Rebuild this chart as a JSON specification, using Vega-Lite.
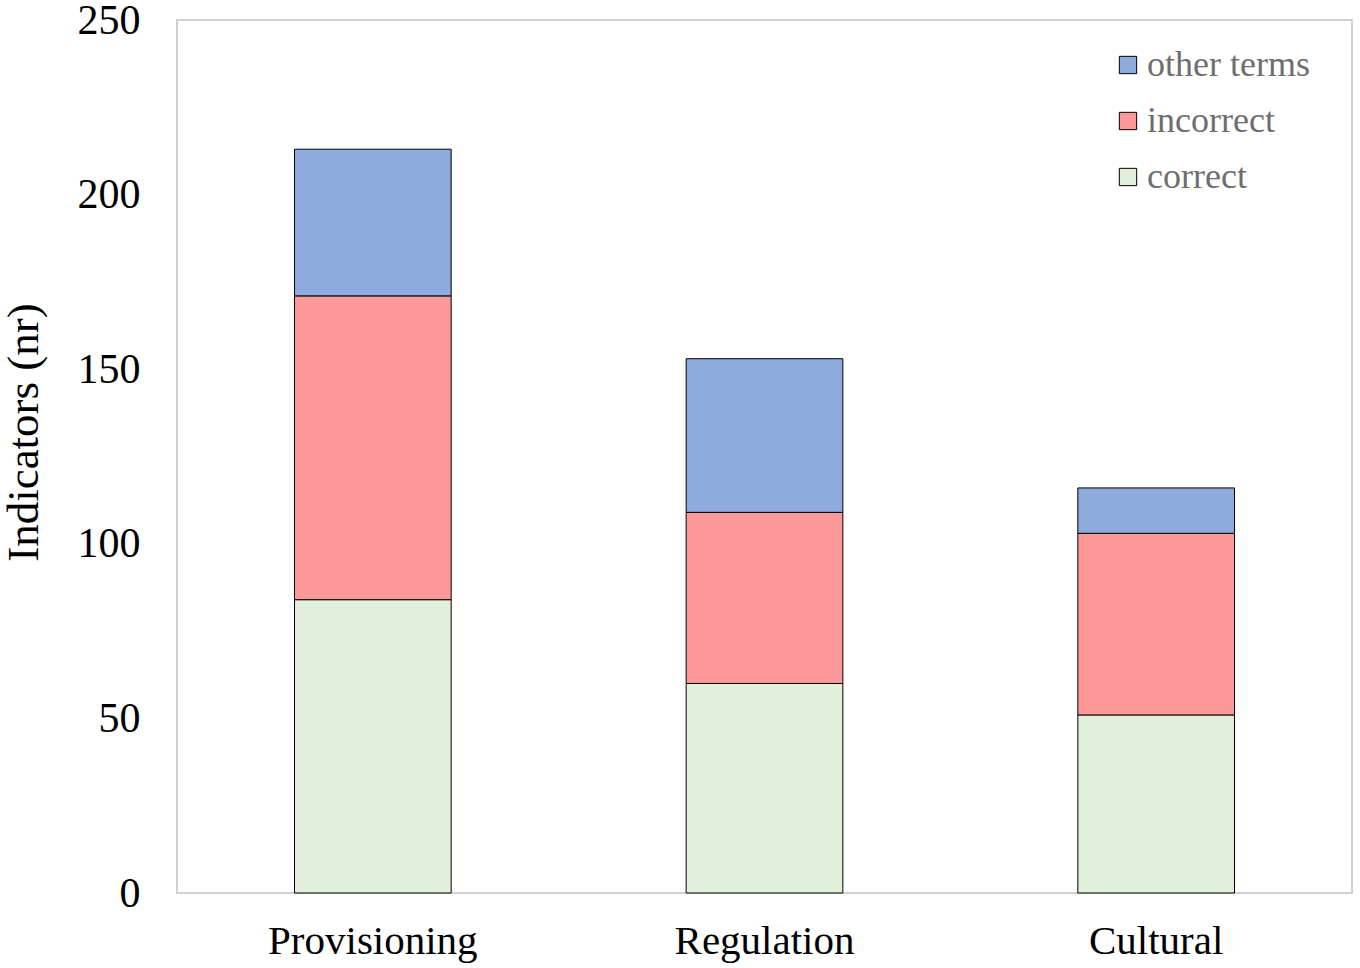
{
  "$schema": "https://vega.github.io/schema/vega-lite/v6.json",
  "autosize": {"type": "none"},
  "padding": {"left": 177, "top": 20, "right": 8, "bottom": 75},
  "width": 1175,
  "height": 873,
  "data": {
    "values": [
      {"service": "Provisioning", "category": "correct", "count": 84},
      {"service": "Provisioning", "category": "incorrect", "count": 87},
      {"service": "Provisioning", "category": "other terms", "count": 42},
      {"service": "Regulation", "category": "correct", "count": 60},
      {"service": "Regulation", "category": "incorrect", "count": 49},
      {"service": "Regulation", "category": "other terms", "count": 44},
      {"service": "Cultural", "category": "correct", "count": 51},
      {"service": "Cultural", "category": "incorrect", "count": 52},
      {"service": "Cultural", "category": "other terms", "count": 13}
    ]
  },
  "mark": {"type": "bar", "stroke": "#000000", "strokeWidth": 1},
  "encoding": {
    "x": {
      "field": "service",
      "type": "nominal",
      "sort": ["Provisioning", "Regulation", "Cultural"],
      "scale": {"paddingInner": 0.6, "paddingOuter": 0.3},
      "axis": {"title": null, "labelAngle": 0, "ticks": false, "domain": false, "labelPadding": 28, "labelFontSize": 41, "labelLimit": 0}
    },
    "y": {
      "field": "count",
      "type": "quantitative",
      "scale": {"domain": [0, 250]},
      "axis": {"title": "Indicators (nr)", "values": [0, 50, 100, 150, 200, 250], "grid": false, "ticks": false, "domain": false, "labelPadding": 37, "labelFontSize": 42, "titleFontSize": 45, "titlePadding": 31, "titleY": 412, "titleFontWeight": "normal"}
    },
    "color": {
      "field": "category",
      "type": "nominal",
      "scale": {"domain": ["other terms", "incorrect", "correct"], "range": ["#8faadc", "#ff9999", "#e2efda"]},
      "legend": {
        "title": null,
        "orient": "none",
        "legendX": 933,
        "legendY": 27,
        "symbolType": "square",
        "symbolSize": 300,
        "symbolStrokeColor": "#000000",
        "symbolStrokeWidth": 1,
        "symbolOpacity": 1,
        "labelFontSize": 36,
        "labelColor": "#6e6e6e",
        "labelOffset": 1,
        "labelLimit": 0,
        "rowPadding": 20,
        "padding": 0
      }
    },
    "order": {"field": "category", "sort": "ascending"}
  },
  "config": {
    "font": "Liberation Serif",
    "view": {"stroke": "#d0d0d0", "strokeWidth": 2},
    "axis": {"labelColor": "#000000", "titleColor": "#000000", "labelFont": "Liberation Serif", "titleFont": "Liberation Serif"},
    "legend": {"labelFont": "Liberation Serif"}
  }
}
